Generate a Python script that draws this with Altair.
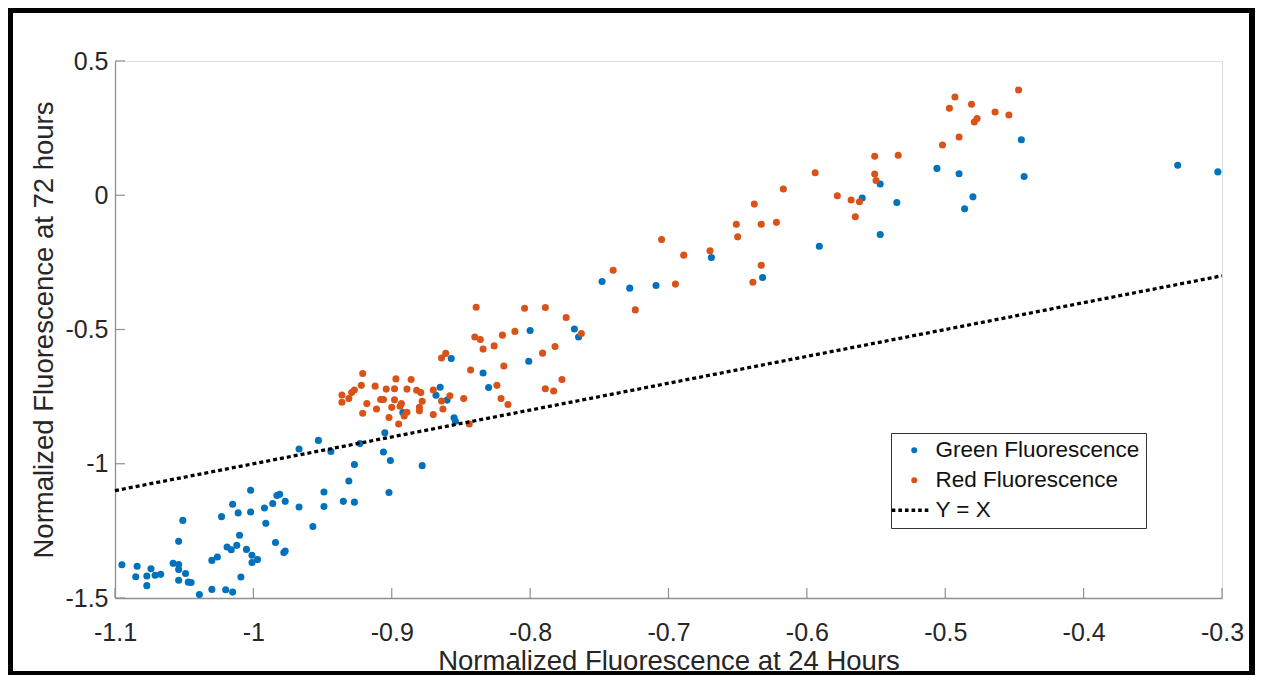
import altair as alt
import pandas as pd

# Green fluorescence (24 h, 72 h)
green_x = [-1.095, -1.084, -1.085, -1.077, -1.074, -1.077, -1.071, -1.067, -1.051, -1.054,
           -1.058, -1.054, -1.054, -1.049, -1.054, -1.047, -1.045, -1.039, -1.030, -1.020,
           -1.015, -1.030, -1.026, -1.023, -1.019, -1.015, -1.016, -1.012, -1.010, -1.011,
           -1.009, -1.005, -1.002, -1.002, -1.001, -1.001, -0.997, -0.992, -0.991, -0.986,
           -0.983, -0.981, -0.977, -0.984, -0.978, -0.977, -0.967, -0.967, -0.953, -0.957,
           -0.949, -0.949, -0.944, -0.935, -0.931, -0.927, -0.927, -0.923, -0.905, -0.906,
           -0.901, -0.902, -0.878, -0.892, -0.865, -0.868, -0.860, -0.855, -0.854, -0.857,
           -0.834, -0.830, -0.800, -0.801, -0.768, -0.765, -0.748, -0.728, -0.709, -0.669,
           -0.632, -0.591, -0.560, -0.547, -0.547, -0.535, -0.506, -0.490, -0.480, -0.486,
           -0.445, -0.443, -0.332, -0.303]
green_y = [-1.376, -1.382, -1.421, -1.418, -1.391, -1.454, -1.415, -1.412, -1.211, -1.289,
           -1.371, -1.375, -1.394, -1.409, -1.434, -1.441, -1.442, -1.487, -1.468, -1.469,
           -1.478, -1.360, -1.347, -1.197, -1.310, -1.151, -1.320, -1.304, -1.266, -1.183,
           -1.422, -1.319, -1.099, -1.180, -1.341, -1.368, -1.357, -1.165, -1.222, -1.148,
           -1.118, -1.114, -1.140, -1.293, -1.331, -1.325, -1.161, -0.945, -0.913, -1.234,
           -1.105, -1.159, -0.954, -1.140, -1.064, -1.003, -1.143, -0.925, -0.885, -0.956,
           -0.988, -1.107, -1.007, -0.809, -0.715, -0.745, -0.763, -0.829, -0.842, -0.608,
           -0.662, -0.716, -0.504, -0.618, -0.498, -0.528, -0.321, -0.346, -0.336, -0.232,
           -0.306, -0.190, -0.010, 0.042, -0.146, -0.027, 0.100, 0.080, -0.006, -0.050,
           0.207, 0.070, 0.112, 0.087]

# Red fluorescence (24 h, 72 h)
red_x = [-0.936, -0.936, -0.931, -0.929, -0.927, -0.922, -0.921, -0.918, -0.921, -0.912,
         -0.911, -0.904, -0.908, -0.906, -0.898, -0.897, -0.898, -0.900, -0.902, -0.895,
         -0.893, -0.894, -0.891, -0.889, -0.889, -0.886, -0.882, -0.879, -0.878, -0.880,
         -0.880, -0.870, -0.864, -0.863, -0.870, -0.858, -0.864, -0.861, -0.848, -0.844,
         -0.843, -0.839, -0.840, -0.836, -0.834, -0.826, -0.820, -0.811, -0.804, -0.789,
         -0.819, -0.824, -0.821, -0.816, -0.791, -0.782, -0.774, -0.763, -0.777, -0.789,
         -0.783, -0.740, -0.724, -0.705, -0.689, -0.695, -0.670, -0.651, -0.650, -0.638,
         -0.633, -0.622, -0.617, -0.633, -0.639, -0.594, -0.578, -0.568, -0.562, -0.565,
         -0.551, -0.551, -0.550, -0.534, -0.502, -0.490, -0.497, -0.493, -0.481, -0.479,
         -0.477, -0.464, -0.454, -0.447]
red_y = [-0.744, -0.771, -0.757, -0.735, -0.725, -0.708, -0.664, -0.776, -0.812, -0.711,
         -0.796, -0.722, -0.761, -0.761, -0.721, -0.684, -0.762, -0.790, -0.828, -0.852,
         -0.776, -0.786, -0.822, -0.808, -0.722, -0.686, -0.726, -0.735, -0.767, -0.790,
         -0.803, -0.725, -0.766, -0.796, -0.817, -0.747, -0.606, -0.589, -0.757, -0.852,
         -0.651, -0.417, -0.528, -0.537, -0.573, -0.561, -0.521, -0.507, -0.421, -0.418,
         -0.636, -0.708, -0.757, -0.779, -0.588, -0.563, -0.455, -0.515, -0.686, -0.721,
         -0.729, -0.279, -0.427, -0.165, -0.223, -0.331, -0.207, -0.108, -0.155, -0.033,
         -0.108, -0.101, 0.023, -0.261, -0.324, 0.084, -0.002, -0.018, -0.024, -0.080,
         0.145, 0.079, 0.055, 0.149, 0.187, 0.217, 0.324, 0.366, 0.339, 0.273,
         0.286, 0.310, 0.299, 0.392]

# Reference line Y = X
line_x = [-1.1, -0.3]

series_names = ["Green Fluorescence", "Red Fluorescence", "Y = X"]
series_colors = ["#0072BD", "#D95319", "#000000"]
x_ticks = [-1.1, -1.0, -0.9, -0.8, -0.7, -0.6, -0.5, -0.4, -0.3]
y_ticks = [-1.5, -1.0, -0.5, 0.0, 0.5]

W, H = 1107, 537
AXIS_GRAY = "#8f8f8f"
TEXT = "#262626"
FONT = "Liberation Sans"

pts = pd.concat([
    pd.DataFrame({"x": green_x, "y": green_y, "series": series_names[0], "order": 0}),
    pd.DataFrame({"x": red_x, "y": red_y, "series": series_names[1], "order": 1}),
], ignore_index=True)
line_df = pd.DataFrame({"x": line_x, "y": line_x})
xt_df = pd.DataFrame({"v": x_ticks})
yt_df = pd.DataFrame({"v": y_ticks})
frame_df = pd.DataFrame({"k": [0]})

# dotted-line legend glyph (custom symbol path, absolute commands only)
def _sq(x0):
    return f"M{x0:.2f},-0.55H{x0 + 1.2:.2f}V0.55H{x0:.2f}Z"
dots = " ".join(_sq(-7.5 + 2.2 * i) for i in range(6))

xs = alt.Scale(domain=[-1.1, -0.3], nice=False, zero=False)
ys = alt.Scale(domain=[-1.5, 0.5], nice=False, zero=False)

LBL = "'' + datum.value"

x_axis = alt.Axis(values=x_ticks, labelExpr=LBL, title="Normalized Fluorescence at 24 Hours",
                  ticks=False, tickSize=0, grid=False, domainColor=AXIS_GRAY, domainWidth=1.3,
                  labelColor=TEXT, labelFontSize=25, labelFont=FONT, labelPadding=22,
                  titleColor=TEXT, titleFontSize=27.5, titleFont=FONT, titleFontWeight="normal",
                  titlePadding=2, labelFlush=False)
y_axis = alt.Axis(values=y_ticks, labelExpr=LBL, title="Normalized Fluorescence at 72 hours",
                  ticks=False, tickSize=0, grid=False, domainColor=AXIS_GRAY, domainWidth=1.3,
                  labelColor=TEXT, labelFontSize=25, labelFont=FONT, labelPadding=7,
                  titleColor=TEXT, titleFontSize=27.5, titleFont=FONT, titleFontWeight="normal",
                  titlePadding=6, labelFlush=False)

points = alt.Chart(pts).mark_point(filled=True, size=50, opacity=1).encode(
    x=alt.X("x:Q", scale=xs, axis=x_axis),
    y=alt.Y("y:Q", scale=ys, axis=y_axis),
    color=alt.Color("series:N", scale=alt.Scale(domain=series_names, range=series_colors),
                    legend=alt.Legend(title=None, orient="none", legendX=776, legendY=372,
                                      fillColor="white", strokeColor="#333333",
                                      padding=6, labelFontSize=22.5, labelFont=FONT,
                                      labelColor="#111111", labelLimit=0,
                                      symbolSize=36, symbolOffset=6, labelOffset=10,
                                      rowPadding=7, symbolStrokeWidth=0)),
    shape=alt.Shape("series:N", scale=alt.Scale(domain=series_names,
                                                 range=["circle", "circle", dots])),
    order=alt.Order("order:Q"),
)

yx_line = alt.Chart(line_df).mark_line(color="black", strokeWidth=3.3, strokeDash=[4, 3]).encode(
    x=alt.X("x:Q", scale=xs), y=alt.Y("y:Q", scale=ys)
)

x_tick_marks = alt.Chart(xt_df).mark_rule(color=AXIS_GRAY, strokeWidth=1.2).encode(
    x=alt.X("v:Q", scale=xs), y=alt.value(H), y2=alt.value(H - 10)
)
y_tick_marks = alt.Chart(yt_df).mark_rule(color=AXIS_GRAY, strokeWidth=1.2).encode(
    y=alt.Y("v:Q", scale=ys), x=alt.value(0), x2=alt.value(10)
)

frame = alt.Chart(frame_df).mark_rect(fillOpacity=0, stroke="black", strokeWidth=6).encode(
    x=alt.value(-105), x2=alt.value(1137), y=alt.value(-51), y2=alt.value(613)
)

chart = alt.layer(x_tick_marks, y_tick_marks, points, yx_line, frame).properties(
    width=W, height=H,
    autosize=alt.AutoSizeParams(type="none"),
    padding={"left": 107, "top": 53, "right": 33, "bottom": 77},
).configure_view(stroke=None).configure(background="white").configure_legend(
    strokeWidth=1
)

chart.save("out.html", embed_options={"renderer": "svg", "actions": False})
